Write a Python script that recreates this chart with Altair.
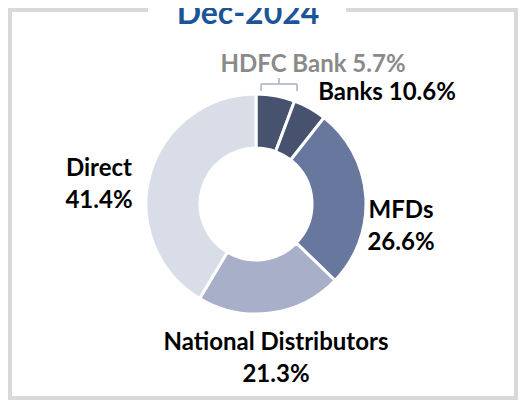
import altair as alt
import pandas as pd

# ---- data ----
segments = ["HDFC Bank", "Other Banks", "MFDs", "National Distributors", "Direct"]
shares = [5.7, 4.9, 26.6, 21.3, 41.4]
banks_total = 10.6
title_text = "Dec-2024"

# ---- styles ----
seg_colors = ["#47526F", "#47526F", "#67779E", "#A8AFC8", "#D9DDE8"]
FONT = "Lato"
FS = 24

df = pd.DataFrame({"segment": segments, "share": shares, "idx": list(range(len(segments)))})
one = alt.Data(values=[{"k": 1}])

W, H = 510, 392
CX, CY = 248, 196

frame = alt.Chart(one).mark_rect(fill=None, stroke="#D9D9D9", strokeWidth=4).encode(
    x=alt.value(2), x2=alt.value(508), y=alt.value(2), y2=alt.value(390)
)
gap = alt.Chart(one).mark_rect(fill="white", stroke=None).encode(
    x=alt.value(140), x2=alt.value(338), y=alt.value(-2), y2=alt.value(6)
)
title = alt.Chart(one).mark_text(
    font=FONT, fontSize=32, fontWeight="bold", color="#1B5598", align="center", baseline="alphabetic"
).encode(x=alt.value(240), y=alt.value(16), text=alt.value(title_text))

donut = alt.Chart(df).mark_arc(radius=110, radius2=56, stroke="white", strokeWidth=3).encode(
    theta=alt.Theta("share:Q", stack=True),
    order=alt.Order("idx:Q"),
    color=alt.Color("segment:N", scale=alt.Scale(domain=segments, range=seg_colors), legend=None),
    x=alt.value(CX), y=alt.value(CY),
)

BR = "#A9B0C6"
def rule(x1, x2, y1, y2):
    return alt.Chart(one).mark_rule(color=BR, strokeWidth=1.5).encode(
        x=alt.value(x1), x2=alt.value(x2), y=alt.value(y1), y2=alt.value(y2)
    )
bracket = [rule(253, 289, 76, 76), rule(253, 253, 76, 83), rule(289, 289, 76, 83), rule(271, 271, 70, 76)]

def label(x, y, lines, color="black"):
    return alt.Chart(one).mark_text(
        font=FONT, fontSize=FS, fontWeight="bold", color=color, align="center",
        baseline="alphabetic", lineHeight=32
    ).encode(x=alt.value(x), y=alt.value(y), text=alt.value(lines))

def pct(v):
    return f"{v:.1f}%"

labels = [
    label(305, 64, f"{segments[0]} {pct(shares[0])}", color="#8A8A8A"),
    label(379, 92, f"Banks {pct(banks_total)}"),
    label(91, 168, [segments[4], pct(shares[4])]),
    label(393, 210, [segments[2], pct(shares[2])]),
    label(268, 342, [segments[3], pct(shares[3])]),
]

chart = alt.layer(frame, gap, title, donut, *bracket, *labels).properties(
    width=W, height=H, padding=0, autosize=alt.AutoSizeParams(type="none"), background="white"
).configure_view(stroke=None)

chart.save("out.html", embed_options={"renderer": "svg", "actions": False})
